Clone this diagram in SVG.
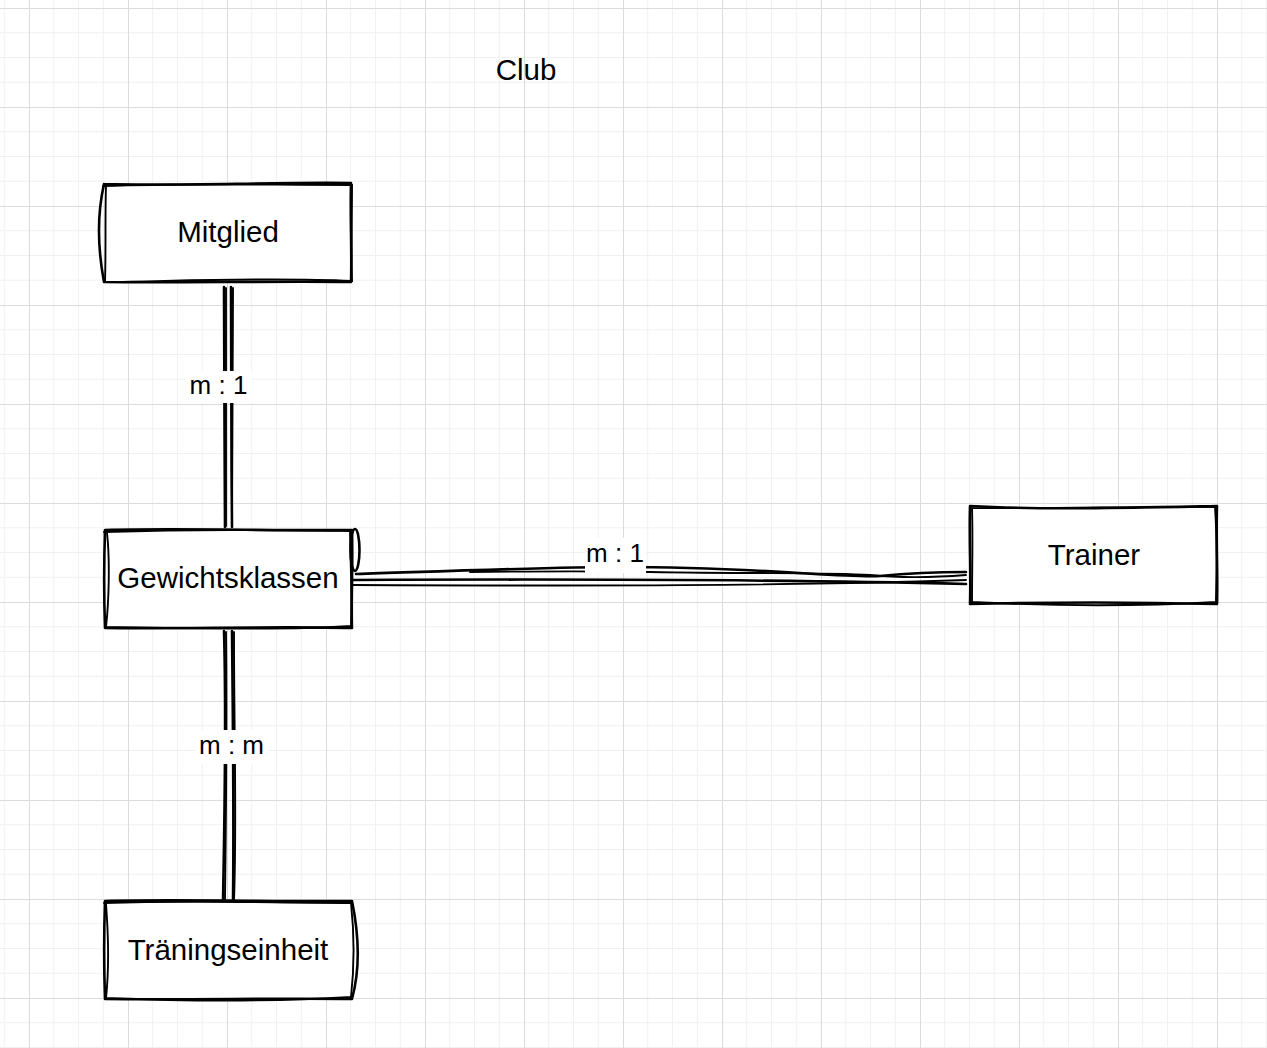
<svg xmlns="http://www.w3.org/2000/svg" width="1267" height="1048" viewBox="0 0 1267 1048">
<defs>
<pattern id="grid" patternUnits="userSpaceOnUse" x="29" y="8" width="99" height="99">
<path d="M24.75,0V99M49.5,0V99M74.25,0V99M0,24.75H99M0,49.5H99M0,74.25H99" stroke="#f1f1f1" stroke-width="1" fill="none"/>
<path d="M0.5,0V99M0,0.5H99" stroke="#dcdcdc" stroke-width="1" fill="none"/>
</pattern>
<style>
.sk{fill:none;stroke:#000;stroke-width:2.6;stroke-linecap:round;stroke-linejoin:round}
.skt{fill:none;stroke:#000;stroke-width:1.9;stroke-linecap:round}
.box{fill:#fff;stroke:none}
.nt{font-family:"Liberation Sans",Arial,sans-serif;font-size:29.5px;fill:#000;text-anchor:middle}
.lt{font-family:"Liberation Sans",Arial,sans-serif;font-size:26px;fill:#000;text-anchor:middle}
.lb{fill:#fff;stroke:none}
</style>
</defs>
<rect width="1267" height="1048" fill="#fff"/>
<rect width="1267" height="1048" fill="url(#grid)"/>

<text class="nt" x="526" y="80">Club</text>

<g id="connectors">
<g id="e-mitglied-gewicht">
<path class="sk" d="M224,287 C225,360 224,450 225,527"/>
<path class="skt" d="M226,288 C226,380 226,450 226,526"/>
<path class="sk" d="M231,287 C232,380 231,450 232,527"/>
<path class="skt" d="M233,288 C233,380 232,460 232,526"/>
<rect class="lb" x="185" y="371" width="67" height="32"/>
<text class="lt" x="218.5" y="394">m : 1</text>
</g>
<g id="e-gewicht-trainer">
<path class="sk" d="M356,574 C480,570 560,567 620,567 C760,567 840,578 880,576 C910,573 940,572 966,572"/>
<path class="skt" d="M470,572 C560,571 600,571 650,572 C760,574 830,572 870,575 C900,578 940,577 966,575"/>
<path class="sk" d="M353,580 C560,579 760,579 966,584"/>
<path class="skt" d="M353,585 C600,586 780,586 966,580"/>
<rect class="lb" x="585" y="538" width="61" height="35"/>
<text class="lt" x="615" y="562">m : 1</text>
</g>
<g id="e-gewicht-training">
<path class="sk" d="M224,631 C226,700 225,800 223,901"/>
<path class="skt" d="M226,632 C227,720 226,820 225,900"/>
<path class="sk" d="M232,631 C233,720 234,820 233,901"/>
<path class="skt" d="M234,632 C234,740 237,820 234,900"/>
<rect class="lb" x="196" y="730" width="72" height="34"/>
<text class="lt" x="231.5" y="754">m : m</text>
</g>
</g>

<g id="n-mitglied">
<rect class="box" x="104" y="184" width="247" height="98"/>
<path class="sk" d="M104,184 C180,186 270,182 351,183 C350,215 352,250 351,282 C280,281 170,283 104,282 C98,250 97,215 104,184"/>
<path class="skt" d="M103,186 C190,183 260,185 352,185 C352,220 351,250 352,281 C270,277 180,281 105,282 C106,250 105,215 106,186"/>
<text class="nt" x="228" y="242">Mitglied</text>
</g>

<g id="n-gewichtsklassen">
<rect class="box" x="105" y="529" width="247" height="99"/>
<path class="sk" d="M105,530 C180,528 280,531 352,530 C353,570 351,600 352,628 C280,626 180,629 105,628 C104,600 104,560 105,530"/>
<path class="skt" d="M104,532 C200,529 270,530 350,531 C351,580 352,600 351,626 C280,631 170,628 106,627 C109,600 110,560 107,533"/>
<ellipse class="sk" cx="355" cy="550" rx="4.5" ry="21"/>
<text class="nt" x="228" y="588">Gewichtsklassen</text>
</g>

<g id="n-trainer">
<rect class="box" x="971" y="507" width="246" height="98"/>
<path class="sk" d="M970,506 C1040,510 1120,508 1217,506 C1216,540 1218,580 1217,604 C1140,602 1050,602 970,604 C971,570 969,540 970,506"/>
<path class="skt" d="M972,508 C1060,509 1140,506 1215,507 C1218,550 1216,580 1216,602 C1130,607 1050,606 972,602 C972,570 973,540 972,508"/>
<text class="nt" x="1094" y="565">Trainer</text>
</g>

<g id="n-traeningseinheit">
<rect class="box" x="105" y="901" width="247" height="98"/>
<path class="sk" d="M105,901 C180,899 280,902 352,901 C360,940 360,970 352,999 C280,998 180,1000 105,999 C104,970 104,930 105,901"/>
<path class="skt" d="M104,903 C200,900 270,903 351,903 C355,940 354,970 351,997 C270,1002 180,1001 106,998 C109,970 108,930 106,904"/>
<text class="nt" x="228" y="960">Träningseinheit</text>
</g>
</svg>
